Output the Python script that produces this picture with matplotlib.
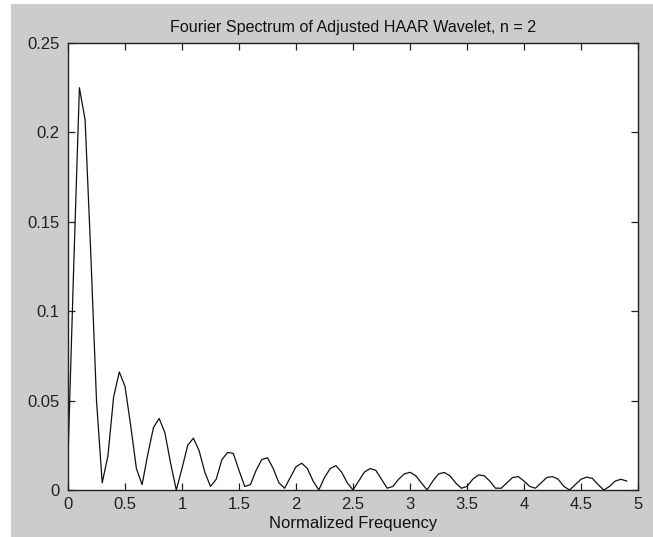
import matplotlib
matplotlib.use("Agg")
import matplotlib.pyplot as plt
from matplotlib.patches import Rectangle
import numpy as np

# Spectrum samples (step 0.05)
freq = np.round(np.arange(0, 4.95, 0.05), 2)
magnitude = [
    0.018, 0.125, 0.225, 0.207, 0.132, 0.050, 0.004,          # 0.00 - 0.30
    0.019, 0.052, 0.066, 0.058, 0.036, 0.012,                 # 0.35 - 0.60
    0.003, 0.020, 0.035, 0.040, 0.032, 0.015,                 # 0.65 - 0.90
    0.000, 0.012, 0.025, 0.029, 0.022, 0.010,                 # 0.95 - 1.20
    0.002, 0.006, 0.017, 0.021, 0.0205, 0.011,                # 1.25 - 1.50
    0.002, 0.003, 0.011, 0.017, 0.018, 0.012,                 # 1.55 - 1.80
    0.004, 0.001, 0.007, 0.013, 0.015, 0.012,                 # 1.85 - 2.10
    0.005, 0.000, 0.007, 0.012, 0.0136, 0.010,                # 2.15 - 2.40
    0.004, 0.000, 0.005, 0.010, 0.012, 0.011,                 # 2.45 - 2.70
    0.006, 0.001, 0.002, 0.006, 0.009, 0.0099,                # 2.75 - 3.00
    0.008, 0.004, 0.000, 0.005, 0.009, 0.0098,                # 3.05 - 3.30
    0.008, 0.004, 0.001, 0.002, 0.006, 0.0084,                # 3.35 - 3.60
    0.008, 0.005, 0.001, 0.001, 0.004, 0.007,                 # 3.65 - 3.90
    0.0075, 0.005, 0.002, 0.001, 0.004, 0.007,                # 3.95 - 4.20
    0.0075, 0.006, 0.002, 0.000, 0.003, 0.006,                # 4.25 - 4.50
    0.0072, 0.0065, 0.003, 0.000, 0.002, 0.005,               # 4.55 - 4.80
    0.006, 0.005,                                             # 4.85 - 4.90
]
x_ticks = [0, 0.5, 1, 1.5, 2, 2.5, 3, 3.5, 4, 4.5, 5]
x_tick_labels = ["0", "0.5", "1", "1.5", "2", "2.5", "3", "3.5", "4", "4.5", "5"]
y_ticks = [0, 0.05, 0.1, 0.15, 0.2, 0.25]
y_tick_labels = ["0", "0.05", "0.1", "0.15", "0.2", "0.25"]

plt.rcParams['font.family'] = ['Liberation Sans', 'DejaVu Sans']

fig = plt.figure(figsize=(6.53, 5.37), dpi=100, facecolor='white')
# grey MATLAB window background (thin white strip at left/top)
fig.patches.append(Rectangle((11 / 653, 0), 1 - 11 / 653, (537 - 4) / 537,
                             transform=fig.transFigure, facecolor='#cccccc',
                             edgecolor='none', zorder=-10))

ax = fig.add_axes([68 / 653, (537 - 490) / 537, 570 / 653, 447 / 537])
ax.plot(freq, magnitude, color='#111111', linewidth=0.9)

ax.set_xlim(0, 5)
ax.set_ylim(0, 0.25)
ax.set_xticks(x_ticks)
ax.set_xticklabels(x_tick_labels)
ax.set_yticks(y_ticks)
ax.set_yticklabels(y_tick_labels)
ax.tick_params(direction='in', length=5, width=0.9, top=True, right=True,
               labelsize=12, colors='#222222')
ax.tick_params(axis='x', pad=5)
ax.tick_params(axis='y', pad=6)
for s in ax.spines.values():
    s.set_linewidth(1.0)
    s.set_color('#222222')

ax.set_xlabel('Normalized Frequency', fontsize=12, labelpad=3, color='#111111')
ax.set_title('Fourier Spectrum of Adjusted HAAR Wavelet, n = 2', fontsize=11.6,
             pad=8, color='#111111')

fig.savefig('out.png', dpi=100, facecolor=fig.get_facecolor())
